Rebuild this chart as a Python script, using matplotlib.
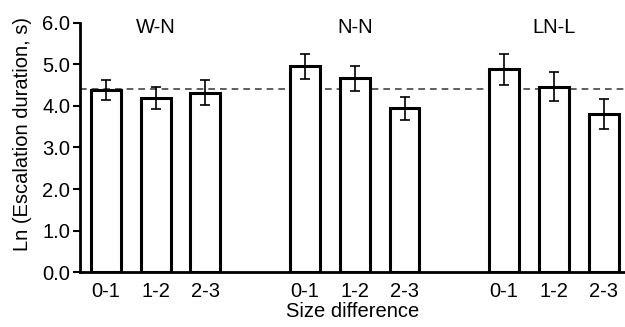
import matplotlib
matplotlib.use("Agg")
import matplotlib.pyplot as plt
import numpy as np

plt.rcParams['font.family'] = ['Liberation Sans', 'DejaVu Sans']

groups = ["W-N", "N-N", "LN-L"]
categories = ["0-1", "1-2", "2-3"]
means = [[4.38, 4.19, 4.32],
         [4.96, 4.67, 3.94],
         [4.88, 4.46, 3.80]]
errors = [[0.24, 0.27, 0.30],
          [0.30, 0.30, 0.27],
          [0.38, 0.35, 0.36]]
reference_line = 4.42
yticks = [0.0, 1.0, 2.0, 3.0, 4.0, 5.0, 6.0]

fig = plt.figure(figsize=(6.25, 3.27), dpi=100)
ax = fig.add_axes([0.128, 0.168, 0.872, 0.762])

pos = []
vals = []
errs = []
labels = []
for gi, g in enumerate(groups):
    for ci, c in enumerate(categories):
        pos.append(gi * 4 + ci)
        vals.append(means[gi][ci])
        errs.append(errors[gi][ci])
        labels.append(c)

ax.bar(pos, vals, width=0.6, color='white', edgecolor='black', linewidth=2.2, zorder=2)
ax.errorbar(pos, vals, yerr=errs, fmt='none', ecolor='black', elinewidth=1.2,
            capsize=3.3, capthick=1.2, zorder=3)
ax.axhline(reference_line, color='#444444', linestyle=(0, (4, 3)), linewidth=1.2, zorder=1)

for gi, g in enumerate(groups):
    ax.text(gi * 4 + 1, 5.88, g, ha='center', va='center', fontsize=14.5)

ax.set_xlim(-0.52, 10.43)
ax.set_ylim(0, 6.0)
ax.set_yticks(yticks)
ax.set_yticklabels([f"{v:.1f}" for v in yticks], fontsize=14.5)
ax.set_xticks(pos)
ax.set_xticklabels(labels, fontsize=14.5)
ax.tick_params(axis='x', length=0, pad=7)
ax.tick_params(axis='y', length=5, width=1.5, pad=2)
for s in ['top', 'right']:
    ax.spines[s].set_visible(False)
for s in ['left', 'bottom']:
    ax.spines[s].set_linewidth(2)
ax.set_ylabel("Ln (Escalation duration, s)", fontsize=14.5)
ax.yaxis.set_label_coords(-0.088, 0.555)
ax.set_xlabel("Size difference", fontsize=14.5, labelpad=1)

fig.savefig("out.png", dpi=100)
